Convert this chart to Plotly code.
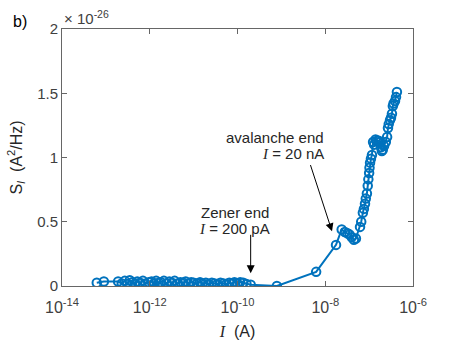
import plotly.graph_objects as go

# --- Data (S_I in units of 1e-26 A^2/Hz) ---
current_A = [
    6.2e-14, 9.0e-14, 1.9e-13, 2.3e-13, 2.7e-13, 3.1e-13, 3.5e-13, 4.0e-13, 4.6e-13, 5.2e-13,
    6.0e-13, 7.0e-13, 8.0e-13, 9.5e-13, 1.1e-12, 1.25e-12, 1.4e-12, 1.6e-12, 1.8e-12, 2.1e-12,
    2.4e-12, 2.8e-12, 3.2e-12, 3.7e-12, 4.3e-12, 5.0e-12, 5.8e-12, 6.6e-12, 7.6e-12, 8.8e-12,
    1.0e-11, 1.2e-11, 1.4e-11, 1.6e-11, 1.9e-11, 2.2e-11, 2.6e-11, 3.0e-11, 3.5e-11, 4.1e-11,
    4.8e-11, 5.6e-11, 6.5e-11, 7.5e-11, 8.5e-11, 1.0e-10, 1.15e-10, 1.35e-10, 1.6e-10, 2.0e-10,
    7.9e-10, 6.2e-9, 1.76e-8, 2.37e-8, 2.8e-8, 3.2e-8, 3.6e-8, 4.0e-8, 4.5e-8, 5.0e-8,
    6.2e-8, 6.6e-8, 7.2e-8, 7.6e-8, 8.05e-8, 8.4e-8, 8.9e-8, 9.3e-8, 9.6e-8, 1.0e-7,
    1.02e-7, 1.05e-7, 1.1e-7, 1.16e-7, 1.23e-7, 1.3e-7, 1.4e-7, 1.51e-7, 1.65e-7, 1.78e-7,
    1.85e-7, 1.95e-7, 2.05e-7, 2.19e-7, 2.4e-7, 2.57e-7, 2.69e-7, 2.8e-7, 2.99e-7, 3.15e-7,
    3.31e-7, 3.47e-7, 3.6e-7, 3.89e-7, 4.1e-7, 4.3e-7,
]
noise_S = [
    0.025, 0.035, 0.035, 0.02, 0.04, 0.015, 0.045, 0.03, 0.02, 0.035,
    0.025, 0.04, 0.02, 0.03, 0.035, 0.02, 0.04, 0.025, 0.03, 0.04,
    0.02, 0.035, 0.025, 0.04, 0.02, 0.03, 0.025, 0.035, 0.02, 0.03,
    0.025, 0.02, 0.03, 0.02, 0.025, 0.015, 0.025, 0.02, 0.015, 0.025,
    0.02, 0.015, 0.025, 0.02, 0.03, 0.02, 0.03, 0.025, 0.015, 0.01,
    0.0, 0.11, 0.32, 0.44, 0.42, 0.41, 0.40, 0.38, 0.36, 0.37,
    0.46, 0.50, 0.57, 0.60, 0.64, 0.68, 0.72, 0.78, 0.83, 0.88,
    0.92, 0.96, 0.99, 1.02, 1.12, 1.10, 1.14, 1.13, 1.13, 1.12,
    1.08, 1.05, 1.06, 1.09, 1.12, 1.16, 1.23, 1.26, 1.29, 1.31,
    1.34, 1.40, 1.42, 1.44, 1.47, 1.51,
]

x_tickvals = [1e-14, 1e-12, 1e-10, 1e-8, 1e-6]
x_ticktext = ["10<sup>-14</sup>", "10<sup>-12</sup>", "10<sup>-10</sup>",
              "10<sup>-8</sup>", "10<sup>-6</sup>"]
y_tickvals = [0, 0.5, 1, 1.5, 2]

blue = "#0072BD"
txt = "#262626"
font = "Liberation Sans, Arial, sans-serif"
serif_i = '<span style="font-family:Liberation Serif"><i>I</i></span>'

fig = go.Figure()
fig.add_trace(go.Scatter(
    x=current_A, y=noise_S, mode="lines+markers",
    line=dict(color=blue, width=2),
    marker=dict(symbol="circle-open", size=8.5, color=blue, line=dict(width=2, color=blue)),
    showlegend=False,
))

axis_common = dict(
    showline=True, linecolor="#666", linewidth=1, mirror="ticks", automargin=False,
    ticks="inside", ticklen=5, tickcolor="#666", showgrid=False, zeroline=False,
)

fig.update_layout(
    template="simple_white",
    width=457, height=347,
    margin=dict(l=62, r=44, t=29, b=61),
    paper_bgcolor="white", plot_bgcolor="white",
    font=dict(family=font, color=txt),
    xaxis=dict(type="log", range=[-14, -6], tickvals=x_tickvals, ticktext=x_ticktext,
               tickfont=dict(family=font, size=16, color="#404040"), ticklabelstandoff=7,
               title=dict(text=serif_i + "  (A)", font=dict(size=16, color=txt), standoff=10),
               **axis_common),
    yaxis=dict(range=[0, 2], tickvals=y_tickvals,
               tickfont=dict(family=font, size=15, color="#404040"),
               title=dict(text="S<sub><i>I</i></sub>  (A<sup>2</sup>/Hz)",
                          font=dict(size=16, color=txt), standoff=10),
               **axis_common),
)

# exponent label and panel letter
fig.add_annotation(text="× 10<sup>-26</sup>", xref="paper", yref="paper", x=0, y=1,
                   xanchor="left", yanchor="bottom", showarrow=False,
                   font=dict(size=15, color="#404040"))
fig.add_annotation(text="b)", xref="paper", yref="paper", x=-0.145, y=0.99,
                   xanchor="left", yanchor="bottom", showarrow=False,
                   font=dict(size=16, color="black"))

# arrows
fig.add_annotation(x=-7.846, y=0.426, ax=-8.348, ay=0.953, xref="x", yref="y",
                   axref="x", ayref="y", text="", showarrow=True,
                   arrowhead=2, arrowsize=1.6, arrowwidth=1, arrowcolor="black")
fig.add_annotation(x=-9.7, y=0.10, ax=-9.7, ay=0.41, xref="x", yref="y",
                   axref="x", ayref="y", text="", showarrow=True,
                   arrowhead=2, arrowsize=1.6, arrowwidth=1, arrowcolor="black")

# labels (one annotation per line to keep the tight line spacing)
label_lines = [
    (-7.98, 1.155, "right", "avalanche end"),
    (-7.98, 1.03, "right", serif_i + " = 20 nA"),
    (-10.06, 0.575, "center", "Zener end"),
    (-10.06, 0.45, "center", serif_i + " = 200 pA"),
]
for lx, ly, anchor, t in label_lines:
    fig.add_annotation(x=lx, y=ly, xref="x", yref="y", xanchor=anchor, yanchor="middle",
                       text=t, showarrow=False, font=dict(size=15, color=txt))

fig.write_html("out.html", config={"displayModeBar": False},
               post_script="document.body.style.margin='0';")
